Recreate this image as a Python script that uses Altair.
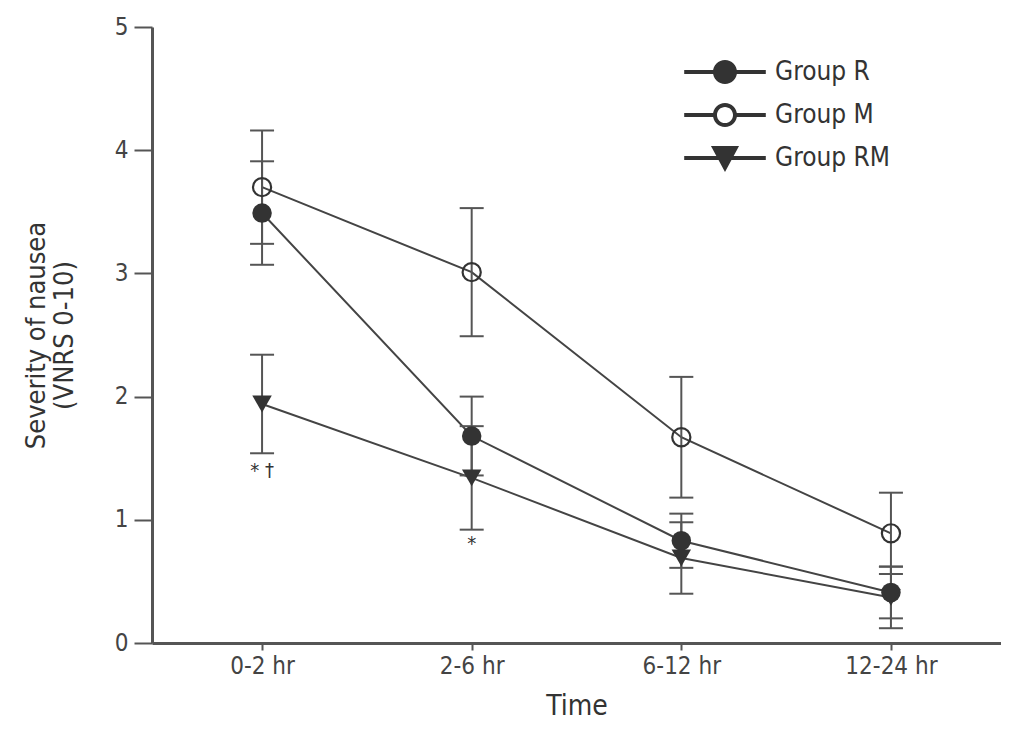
import altair as alt
import pandas as pd

times = ["0-2 hr", "2-6 hr", "6-12 hr", "12-24 hr"]
groups = ["Group R", "Group M", "Group RM"]
mean_r = [3.49, 1.68, 0.83, 0.41]
err_r = [0.42, 0.32, 0.22, 0.21]
mean_m = [3.70, 3.01, 1.67, 0.89]
err_m = [0.46, 0.52, 0.49, 0.33]
mean_rm = [1.94, 1.34, 0.69, 0.37]
err_rm = [0.40, 0.42, 0.29, 0.25]
annot_time = ["0-2 hr", "2-6 hr"]
annot_y = [1.40, 0.80]
annot_text = ["* \u2020", "*"]

rows = []
for g, means, errs in zip(groups, [mean_r, mean_m, mean_rm], [err_r, err_m, err_rm]):
    for t, m, e in zip(times, means, errs):
        rows.append({"time": t, "group": g, "mean": m, "lo": m - e, "hi": m + e})
df = pd.DataFrame(rows)
ann = pd.DataFrame({"time": annot_time, "y": annot_y, "label": annot_text})

FONT = "DejaVu Sans Condensed"
INK = "#333333"
AX = "#555555"
LBL = "#444444"

xenc = alt.X(
    "time:N", sort=times, title="Time",
    scale=alt.Scale(type="point", padding=0.525),
    axis=alt.Axis(labelAngle=0, labelFontSize=24, labelColor=LBL, titleFontSize=28,
                  titleColor="#333", titleFontWeight="normal", tickSize=7, tickWidth=2,
                  tickColor=AX, domainColor=AX, domainWidth=3, labelPadding=4,
                  titlePadding=14),
)
yscale = alt.Scale(domain=[0, 5], nice=False)
yaxis = alt.Axis(values=[0, 1, 2, 3, 4, 5], format="d", grid=False, labelFontSize=24,
                 labelColor=LBL, tickSize=18, tickWidth=2, tickColor=AX, domainColor=AX,
                 domainWidth=3, labelPadding=6, titleFontSize=27, titleColor="#333",
                 titlePadding=36, titleFontWeight="normal", titleLineHeight=28)

base = alt.Chart(df).encode(x=xenc)

lines = base.mark_line(color="#444", strokeWidth=2).encode(
    y=alt.Y("mean:Q", scale=yscale, axis=yaxis,
            title=["Severity of nausea", "(VNRS 0-10)"]),
    detail="group:N",
)
bars = base.mark_rule(color=AX, strokeWidth=2).encode(y="lo:Q", y2="hi:Q")
cap_lo = base.mark_tick(color=AX, thickness=2, size=24, opacity=1).encode(y="lo:Q")
cap_hi = base.mark_tick(color=AX, thickness=2, size=24, opacity=1).encode(y="hi:Q")

filled = base.transform_filter(alt.datum.group != "Group M").mark_point(
    filled=True, color=INK, size=380, opacity=1
).encode(
    y="mean:Q",
    shape=alt.Shape("group:N", scale=alt.Scale(domain=groups, range=["circle", "circle", "triangle-down"]),
                    legend=None),
)
hollow = base.transform_filter(alt.datum.group == "Group M").mark_point(
    filled=False, color=INK, size=330, strokeWidth=2.2, opacity=1, shape="circle"
).encode(y="mean:Q")

path_r = "M-3.4,-0.17H3.4V0.17H-3.4Z M-1,0A1,1,0,1,1,1,0A1,1,0,1,1,-1,0Z"
path_m = ("M-3.4,-0.17H-0.85V0.17H-3.4Z M0.85,-0.17H3.4V0.17H0.85Z "
          "M-1,0A1,1,0,1,1,1,0A1,1,0,1,1,-1,0Z M-0.67,0A0.67,0.67,0,1,0,0.67,0A0.67,0.67,0,1,0,-0.67,0Z")
path_rm = "M-3.4,-0.17H3.4V0.17H-3.4Z M-1.17,-1H1.17L0,1.17Z"

legend_layer = alt.Chart(df).transform_filter("false").mark_point(
    filled=True, color=INK, opacity=1
).encode(
    x=alt.X("time:N", sort=times),
    y="mean:Q",
    shape=alt.Shape("group:N",
                    scale=alt.Scale(domain=groups, range=[path_r, path_m, path_rm]),
                    legend=alt.Legend(title=None, orient="none", legendX=560, legendY=32,
                                      symbolSize=576, symbolFillColor=INK, symbolStrokeWidth=0,
                                      symbolStrokeColor=INK, symbolOpacity=1,
                                      labelFontSize=26, labelColor="#333", labelOffset=37,
                                      rowPadding=17, padding=0)),
)

text = alt.Chart(ann).mark_text(fontSize=20, color=INK).encode(
    x=alt.X("time:N", sort=times), y="y:Q", text="label:N"
)

chart = alt.layer(lines, bars, cap_lo, cap_hi, filled, hollow, text, legend_layer).resolve_scale(
    shape="independent"
).properties(
    width=849, height=616,
    autosize=alt.AutoSizeParams(type="none"),
    padding={"left": 144, "top": 19, "right": 0, "bottom": 80},
).configure(font=FONT).configure_view(stroke=None)

chart.save("out.html", embed_options={"renderer": "svg", "actions": False})
